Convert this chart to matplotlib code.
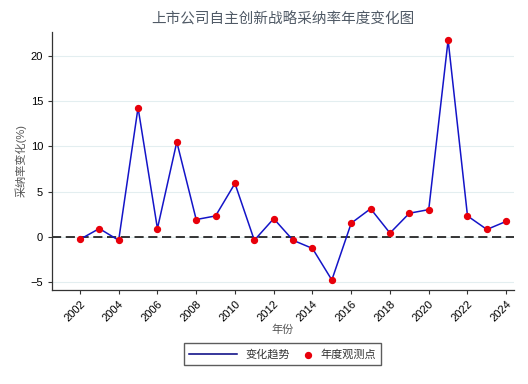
import matplotlib
matplotlib.use('Agg')
import matplotlib.pyplot as plt
from matplotlib.legend_handler import HandlerPathCollection

plt.rcParams['font.family'] = ['Liberation Sans', 'Noto Sans CJK SC', 'DejaVu Sans']

years = list(range(2002, 2025))
change = [-0.3, 0.9, -0.4, 14.3, 0.9, 10.5, 1.9, 2.3, 5.9, -0.4, 2.0, -0.4,
          -1.3, -4.8, 1.5, 3.1, 0.4, 2.6, 3.0, 21.8, 2.3, 0.8, 1.7]
xticks = list(range(2002, 2025, 2))
yticks = [-5, 0, 5, 10, 15, 20]


class RightMarker(HandlerPathCollection):
    # put the legend dot at the right end of the handle box
    def get_xdata(self, legend, xdescent, ydescent, width, height, fontsize):
        x = [-xdescent + width - 0.3 * fontsize]
        return x, x


fig = plt.figure(figsize=(5.28, 3.84), dpi=100)
ax = fig.add_axes([0.0985, 0.245, 0.875, 0.672])

for y in yticks:
    ax.axhline(y, color='#e3eef0', lw=0.8, zorder=0)
ax.axhline(0, color='black', lw=1.1, ls=(0, (6, 3)), zorder=1)

ln, = ax.plot(years, change, color='#1414c8', lw=1.1, zorder=2, label='变化趋势')
sc = ax.scatter(years, change, color='#e8000b', s=18, zorder=3, label='年度观测点')

ax.set_xlim(2000.56, 2024.4)
ax.set_ylim(-5.9, 22.7)
ax.set_xticks(xticks)
ax.set_yticks(yticks)
ax.tick_params(axis='both', labelsize=8, length=3, width=0.8, colors='#333333', labelcolor='black')
plt.setp(ax.get_xticklabels(), rotation=45, ha='right', rotation_mode='anchor')

for s in ['top', 'right']:
    ax.spines[s].set_visible(False)
for s in ['left', 'bottom']:
    ax.spines[s].set_color('#333333')
    ax.spines[s].set_linewidth(0.9)

ax.set_title('上市公司自主创新战略采纳率年度变化图', fontsize=10.5, color='#505a66', pad=6)
ax.set_xlabel('年份', fontsize=8, color='#555555', labelpad=1)
ax.set_ylabel('采纳率变化(%)', fontsize=8, color='#555555', labelpad=3)

leg = fig.legend([ln, sc], ['变化趋势', '年度观测点'], loc='lower center',
                 bbox_to_anchor=(0.535, 0.035), ncol=2, fontsize=8,
                 frameon=True, fancybox=False, edgecolor='#333333', handlelength=4.3,
                 columnspacing=-2.4, borderpad=0.5, scatterpoints=1,
                 handler_map={sc: RightMarker()})
leg.get_lines()[0].set_color('#000080')
for t in leg.get_texts():
    t.set_color('#333333')

fig.savefig('out.png', dpi=100)
